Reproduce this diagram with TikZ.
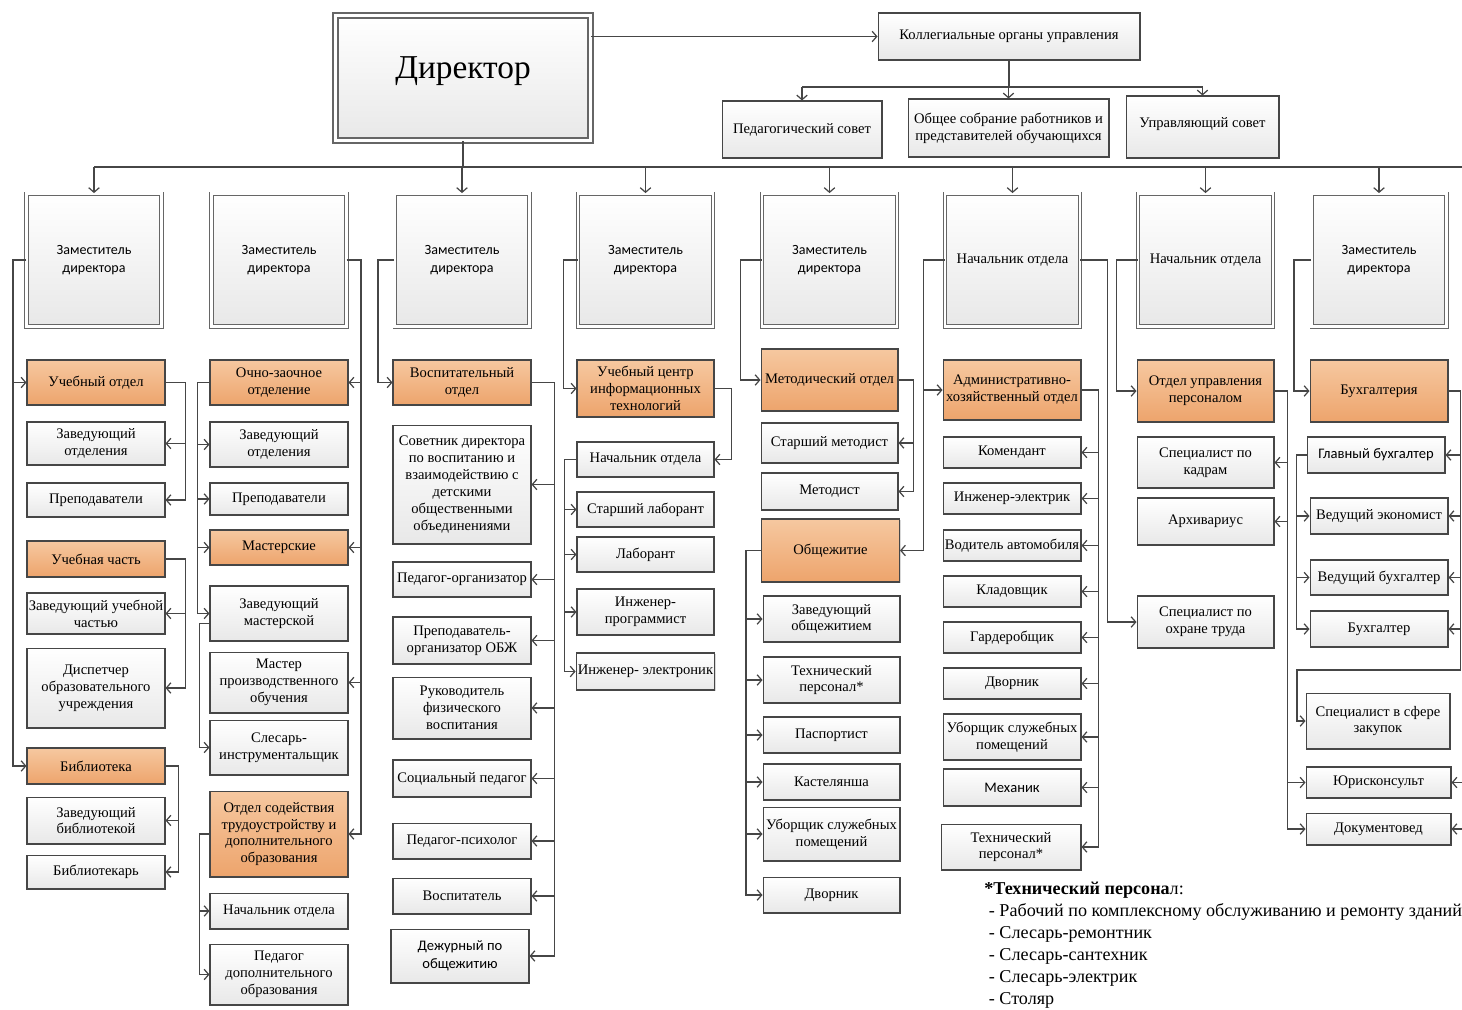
\documentclass[tikz,border=0pt]{standalone}
\usepackage{fontspec}
\setmainfont{Liberation Serif}
\newfontfamily\calfont{Carlito}
\usetikzlibrary{arrows.meta,shadows}
\definecolor{orangeT}{RGB}{246,200,160}
\definecolor{orangeB}{RGB}{237,164,108}
\definecolor{lineGray}{RGB}{70,70,70}

\begin{document}
\begin{tikzpicture}
[x=0.02cm,y=-0.02cm,
  boxDecorate/.style={shape=rectangle,draw=lineGray,line width=0.6pt,top color=white,bottom color=black!9,
    align=center,minimum width=2.76cm,inner sep=1pt,font=\fontsize{8.3}{9.6}\selectfont,
    drop shadow={shadow xshift=0.7pt,shadow yshift=-0.7pt,opacity=0.3}},
  orangeDecorate/.style={boxDecorate,top color=orangeT,bottom color=orangeB},
  headDecorate/.style={boxDecorate,draw=black!60,double=white,double distance=1.3pt,line width=0.5pt,
    minimum width=2.7cm,minimum height=2.66cm,font=\calfont\fontsize{8}{10}\selectfont},
  lineDecorate/.style={draw=lineGray,line width=0.7pt},
  arrowDecorate/.style={lineDecorate,-{Straight Barb[length=2.6pt,width=6pt]}}]
\useasboundingbox (0,0) rectangle (1462,1009);
%% top level
\node (dir) at (463,78) [boxDecorate,draw=black!60,double=white,double distance=2.2pt,line width=0.8pt,
  minimum width=5.1cm,minimum height=2.5cm,font=\fontsize{19}{22}\selectfont] {\raisebox{0.4cm}{Директор}};
\node (kol) at (1009,36.5) [boxDecorate,minimum width=5.24cm,minimum height=0.94cm] {Коллегиальные органы управления};
\node (pedsov) at (802,129.5) [boxDecorate,minimum width=3.2cm,minimum height=1.14cm] {Педагогический совет};
\node (obsob) at (1008.5,128) [boxDecorate,minimum width=4.02cm,minimum height=1.16cm] {Общее собрание работников и\\представителей обучающихся};
\node (upsov) at (1202.5,127) [boxDecorate,minimum width=3.06cm,minimum height=1.24cm] {\raisebox{0.2cm}{Управляющий совет}};
%% heads of the branches
\node (dep1) at (94,260) [headDecorate] {Заместитель\\директора};
\node (dep2) at (279,260) [headDecorate] {Заместитель\\директора};
\node (dep3) at (462,260) [headDecorate] {Заместитель\\директора};
\node (dep4) at (645.5,260) [headDecorate] {Заместитель\\директора};
\node (dep5) at (829.5,260) [headDecorate] {Заместитель\\директора};
\node (dep6) at (1012.5,260) [headDecorate,font=\fontsize{8.3}{9.6}\selectfont] {Начальник отдела};
\node (dep7) at (1205.5,260) [headDecorate,font=\fontsize{8.3}{9.6}\selectfont] {Начальник отдела};
\node (dep8) at (1379,260) [headDecorate] {Заместитель\\директора};
%% column 1
\node (uchotd) at (96,382.5) [orangeDecorate,minimum height=0.9cm] {Учебный отдел};
\node (zavotd1) at (96,443.5) [boxDecorate,minimum height=0.86cm] {Заведующий\\отделения};
\node (prep1) at (96,500) [boxDecorate,minimum height=0.68cm] {Преподаватели};
\node (uchch) at (96,559) [orangeDecorate,minimum height=0.72cm] {Учебная часть};
\node (zavuch) at (96,613.5) [boxDecorate,minimum height=0.82cm] {Заведующий учебной\\частью};
\node (disp) at (96,688) [boxDecorate,minimum height=1.6cm] {Диспетчер\\образовательного\\учреждения};
\node (bibl) at (96,766) [orangeDecorate,minimum height=0.72cm] {Библиотека};
\node (zavbib) at (96,820.5) [boxDecorate,minimum height=0.94cm] {Заведующий\\библиотекой};
\node (bibtek) at (96,872) [boxDecorate,minimum height=0.68cm] {Библиотекарь};
%% column 2
\node (ochzao) at (279,382.5) [orangeDecorate,minimum height=0.9cm] {Очно-заочное\\отделение};
\node (zavotd2) at (279,444.5) [boxDecorate,minimum height=0.9cm] {Заведующий\\отделения};
\node (prep2) at (279,499) [boxDecorate,minimum height=0.64cm] {Преподаватели};
\node (master) at (279,547.5) [orangeDecorate,minimum height=0.7cm] {Мастерские};
\node (zavmas) at (279,613.5) [boxDecorate,minimum height=1.1cm] {Заведующий\\мастерской};
\node (mastpo) at (279,682.5) [boxDecorate,minimum height=1.22cm] {Мастер\\производственного\\обучения};
\node (slesar) at (279,747.5) [boxDecorate,minimum height=1.1cm] {Слесарь-\\инструментальщик};
\node (otdsod) at (279,834) [orangeDecorate,minimum height=1.72cm] {Отдел содействия\\трудоустройству и\\дополнительного\\образования};
\node (nachotd2) at (279,911) [boxDecorate,minimum height=0.72cm] {Начальник отдела};
\node (peddop) at (279,974.5) [boxDecorate,minimum height=1.22cm] {Педагог\\дополнительного\\образования};
%% column 3
\node (vosp) at (462,382.5) [orangeDecorate,minimum height=0.9cm] {Воспитательный\\отдел};
\node (sovet) at (462,484.5) [boxDecorate,minimum height=2.38cm] {Советник директора\\по воспитанию и\\взаимодействию с\\детскими\\общественными\\объединениями};
\node (pedorg) at (462,579.5) [boxDecorate,minimum height=0.7cm] {Педагог-организатор};
\node (obzh) at (462,640.5) [boxDecorate,minimum height=0.94cm] {Преподаватель-\\организатор ОБЖ};
\node (fizvosp) at (462,708) [boxDecorate,minimum height=1.24cm] {Руководитель\\физического\\воспитания};
\node (socped) at (462,778.5) [boxDecorate,minimum height=0.74cm] {Социальный педагог};
\node (psych) at (462,841) [boxDecorate,minimum height=0.72cm] {Педагог-психолог};
\node (vospit) at (462,896) [boxDecorate,minimum height=0.72cm] {Воспитатель};
\node (dezh) at (460,956) [boxDecorate,minimum height=1.08cm,font=\calfont\fontsize{8.3}{10}\selectfont] {Дежурный по\\общежитию};
%% column 4
\node (uchcentr) at (645.5,388.5) [orangeDecorate,minimum width=2.74cm,minimum height=1.14cm] {Учебный центр\\информационных\\технологий};
\node (nachotd4) at (645.5,459.5) [boxDecorate,minimum width=2.74cm,minimum height=0.7cm] {Начальник отдела};
\node (stlab) at (645.5,509.5) [boxDecorate,minimum width=2.74cm,minimum height=0.7cm] {Старший лаборант};
\node (lab) at (645.5,554.5) [boxDecorate,minimum width=2.74cm,minimum height=0.7cm] {Лаборант};
\node (ingprog) at (645.5,612) [boxDecorate,minimum width=2.74cm,minimum height=0.92cm] {Инженер-\\программист};
\node (ingel) at (645.5,671.5) [boxDecorate,minimum width=2.74cm,minimum height=0.74cm] {Инженер- электроник};
%% column 5
\node (metod) at (829.5,380) [orangeDecorate,minimum width=2.74cm,minimum height=1.24cm] {Методический отдел};
\node (stmet) at (829.5,443) [boxDecorate,minimum width=2.74cm,minimum height=0.8cm] {Старший методист};
\node (metodist) at (829.5,491.5) [boxDecorate,minimum width=2.74cm,minimum height=0.74cm] {Методист};
\node (obsh) at (830.5,550.5) [orangeDecorate,minimum height=1.26cm] {Общежитие};
\node (zavobsh) at (831.5,619) [boxDecorate,minimum width=2.74cm,minimum height=0.92cm] {Заведующий\\общежитием};
\node (tehper1) at (831.5,680) [boxDecorate,minimum width=2.74cm,minimum height=0.92cm] {Технический\\персонал*};
\node (pasport) at (831.5,735) [boxDecorate,minimum width=2.74cm,minimum height=0.72cm] {Паспортист};
\node (kastel) at (831.5,782) [boxDecorate,minimum width=2.74cm,minimum height=0.72cm] {Кастелянша};
\node (uborsh1) at (831.5,834) [boxDecorate,minimum width=2.74cm,minimum height=1.08cm] {Уборщик служебных\\помещений};
\node (dvor1) at (831.5,895) [boxDecorate,minimum width=2.74cm,minimum height=0.72cm] {Дворник};
%% column 6
\node (aho) at (1012,390) [orangeDecorate,minimum height=1.2cm] {Административно-\\хозяйственный отдел};
\node (koment) at (1012,452.5) [boxDecorate,minimum height=0.62cm] {Комендант};
\node (ingel2) at (1012,498.5) [boxDecorate,minimum height=0.62cm] {Инженер-электрик};
\node (voditel) at (1012,545.5) [boxDecorate,minimum height=0.62cm] {Водитель автомобиля};
\node (kladov) at (1012,591.5) [boxDecorate,minimum height=0.62cm] {Кладовщик};
\node (garder) at (1012,637.5) [boxDecorate,minimum height=0.62cm] {Гардеробщик};
\node (dvor2) at (1012,683.5) [boxDecorate,minimum height=0.62cm] {Дворник};
\node (uborsh2) at (1012,737) [boxDecorate,minimum height=0.92cm] {Уборщик служебных\\помещений};
\node (mehanik) at (1012,787.5) [boxDecorate,minimum height=0.74cm,font=\calfont\fontsize{8.3}{10}\selectfont] {Механик};
\node (tehper2) at (1011,847) [boxDecorate,minimum width=2.8cm,minimum height=0.92cm] {Технический\\персонал*};
%% column 7
\node (oup) at (1205.5,391) [orangeDecorate,minimum width=2.74cm,minimum height=1.24cm] {Отдел управления\\персоналом};
\node (speckadr) at (1205.5,462.5) [boxDecorate,minimum width=2.74cm,minimum height=1.02cm] {Специалист по\\кадрам};
\node (arhiv) at (1205.5,521.5) [boxDecorate,minimum width=2.74cm,minimum height=0.94cm] {Архивариус};
\node (ohrtr) at (1205.5,622) [boxDecorate,minimum width=2.74cm,minimum height=1.04cm] {Специалист по\\охране труда};
%% column 8
\node (buh) at (1379,391) [orangeDecorate,minimum height=1.24cm] {Бухгалтерия};
\node (glbuh) at (1376,455) [boxDecorate,minimum height=0.72cm,font=\calfont\fontsize{8.3}{10}\selectfont] {Главный бухгалтер};
\node (vedek) at (1379,516) [boxDecorate,minimum height=0.72cm] {Ведущий экономист};
\node (vedbuh) at (1379,577.5) [boxDecorate,minimum height=0.7cm] {Ведущий бухгалтер};
\node (buhg) at (1379,629) [boxDecorate,minimum height=0.72cm] {Бухгалтер};
\node (zakup) at (1378,721) [boxDecorate,minimum width=2.88cm,minimum height=1.12cm] {Специалист в сфере\\закупок};
\node (jur) at (1378.5,782.5) [boxDecorate,minimum width=2.9cm,minimum height=0.62cm] {Юрисконсульт};
\node (docum) at (1378.5,829) [boxDecorate,minimum width=2.9cm,minimum height=0.64cm] {Документовед};
%% footnote
\node (note) at (984,882) [anchor=north west,align=left,inner sep=0pt,font=\fontsize{10.3}{12.5}\selectfont]
  {{\bfseries *Технический персона}л:\\
   \ - Рабочий по комплексному обслуживанию и ремонту зданий\\
   \ - Слесарь-ремонтник\\
   \ - Слесарь-сантехник\\
   \ - Слесарь-электрик\\
   \ - Столяр};
%% helper points
\coordinate (busL) at (94,167);
\coordinate (busR) at (1462,167);
\coordinate (kolbus) at (0,87);
\coordinate (buhturn) at (1297,670);
\coordinate (jurR) at (1475,782.5);
\coordinate (documR) at (1475,829);
%% lines from the top
\draw[arrowDecorate] (dir.east |- kol.west) -- (kol.west);
\draw[lineDecorate] (kol.south) -- (kol.south |- kolbus);
\draw[lineDecorate] (pedsov.north |- kolbus) -- (upsov.north |- kolbus);
\foreach \n in {pedsov,obsob,upsov}
  \draw[arrowDecorate] (\n.north |- kolbus) -- (\n.north);
\draw[lineDecorate] (dir.south) -- (dir.south |- busL);
\draw[lineDecorate] (busL) -- (dir.south |- busL);
\draw[lineDecorate,line width=1.5pt] (dir.south |- busL) -- (busR);
\foreach \n in {dep1,dep3,dep4,dep5,dep6,dep7,dep8}
  \draw[arrowDecorate] (\n.north |- busL) -- (\n.north);
%% column 1 links
\foreach \n in {uchotd,bibl}
  \draw[arrowDecorate] (dep1.west) -- ++(-13,0) |- (\n.west);
\foreach \n in {zavotd1,prep1}
  \draw[arrowDecorate] (uchotd.east) -- ++(20,0) |- (\n.east);
\foreach \n in {zavuch,disp}
  \draw[arrowDecorate] (uchch.east) -- ++(20,0) |- (\n.east);
\foreach \n in {zavbib,bibtek}
  \draw[arrowDecorate] (bibl.east) -- ++(13,0) |- (\n.east);
%% column 2 links
\foreach \n in {ochzao,master,mastpo,otdsod}
  \draw[arrowDecorate] (dep2.east) -- ++(14,0) |- (\n.east);
\foreach \n in {zavotd2,prep2,master,zavmas}
  \draw[arrowDecorate] (ochzao.west) -- ++(-12,0) |- (\n.west);
\draw[arrowDecorate] ([yshift=-0.2cm]zavmas.west) -- ++(-10,0) |- (slesar.west);
\foreach \n in {nachotd2,peddop}
  \draw[arrowDecorate] (otdsod.west) -- ++(-10,0) |- (\n.west);
%% column 3 links
\draw[arrowDecorate] (dep3.west) -- ++(-16,0) |- (vosp.west);
\foreach \n in {sovet,pedorg,obzh,fizvosp,socped,psych,vospit,dezh}
  \draw[arrowDecorate] (vosp.east) -- ++(23,0) |- (\n.east);
%% column 4 links
\draw[arrowDecorate] (dep4.west) -- ++(-14,0) |- (uchcentr.west);
\draw[arrowDecorate] (uchcentr.east) -- ++(17,0) |- (nachotd4.east);
\foreach \n in {stlab,lab,ingprog,ingel}
  \draw[arrowDecorate] (nachotd4.west) -- ++(-12,0) |- (\n.west);
%% column 5 links
\draw[arrowDecorate] (dep5.west) -- ++(-21,0) |- (metod.west);
\foreach \n in {stmet,metodist}
  \draw[arrowDecorate] (metod.east) -- ++(15,0) |- (\n.east);
\foreach \n in {zavobsh,tehper1,pasport,kastel,uborsh1,dvor1}
  \draw[arrowDecorate] (obsh.west) -- ++(-15,0) |- (\n.west);
%% column 6 links
\draw[arrowDecorate] (dep6.west) -- ++(-21,0) |- (aho.west);
\draw[arrowDecorate] (dep6.west) -- ++(-21,0) |- (obsh.east);
\foreach \n in {koment,ingel2,voditel,kladov,garder,dvor2,uborsh2,mehanik,tehper2}
  \draw[arrowDecorate] (aho.east) -- ++(17,0) |- (\n.east);
\draw[arrowDecorate] (dep6.east) -- ++(27,0) |- (ohrtr.west);
%% column 7 links
\draw[arrowDecorate] (dep7.west) -- ++(-21,0) |- (oup.west);
\foreach \n in {speckadr,arhiv}
  \draw[arrowDecorate] (oup.east) -- ++(13,0) |- (\n.east);
\foreach \n in {jur,docum}
  \draw[arrowDecorate] (oup.east) -- ++(13,0) |- (\n.west);
%% column 8 links
\draw[arrowDecorate] (dep8.west) -- ++(-17,0) |- (buh.west);
\foreach \n in {vedek,vedbuh,buhg}
  \draw[arrowDecorate] (glbuh.west) -- ++(-10,0) |- (\n.west);
\foreach \n in {glbuh,vedek,vedbuh,buhg}
  \draw[arrowDecorate] (buh.east) -- ++(12,0) |- (\n.east);
\draw[arrowDecorate] (buh.east) -- ++(12,0) |- (buhturn) |- (zakup.west);
\draw[arrowDecorate] (jurR) -- (jur.east);
\draw[arrowDecorate] (documR) -- (docum.east);
\end{tikzpicture}
\end{document}
